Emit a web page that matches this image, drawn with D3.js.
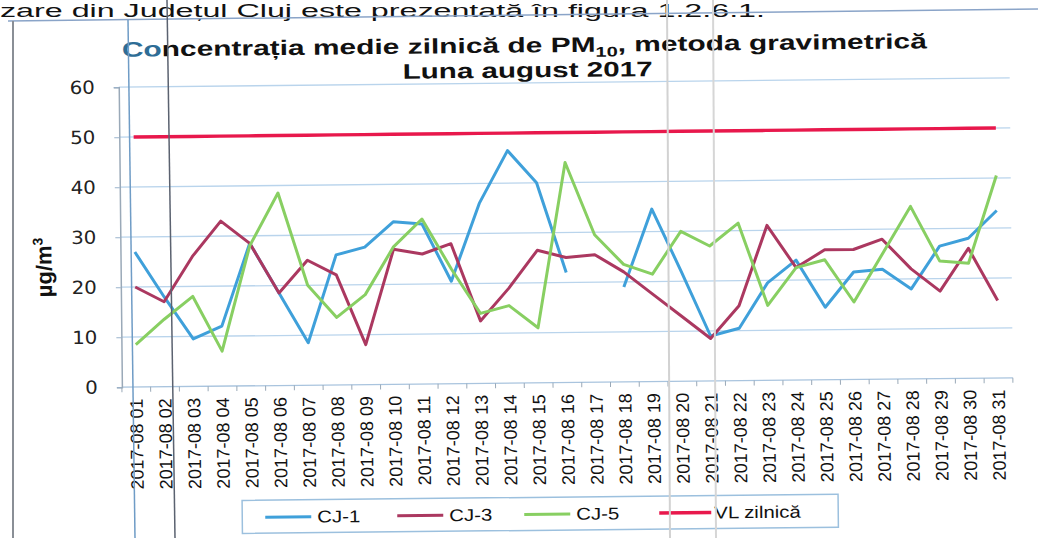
<!DOCTYPE html>
<html>
<head>
<meta charset="utf-8">
<script src="https://cdn.jsdelivr.net/npm/d3@7"></script>
<style>
body { margin: 0; background: #fff; }
svg { display: block; font-family: "Liberation Sans", Arial, sans-serif; }
</style>
</head>
<body>
<svg id="chart" width="1038" height="538"></svg>
<script>
const days = ["2017-08 01","2017-08 02","2017-08 03","2017-08 04","2017-08 05","2017-08 06",
  "2017-08 07","2017-08 08","2017-08 09","2017-08 10","2017-08 11","2017-08 12","2017-08 13",
  "2017-08 14","2017-08 15","2017-08 16","2017-08 17","2017-08 18","2017-08 19","2017-08 20",
  "2017-08 21","2017-08 22","2017-08 23","2017-08 24","2017-08 25","2017-08 26","2017-08 27",
  "2017-08 28","2017-08 29","2017-08 30","2017-08 31"]

const cj1 = [27, 18, 9.5, 12, 28.5, 18.5, 8.5, 26, 27.5, 32.5, 32, 20.5, 36, 46.5, 40, 22,
  null, 19, 34.5, 22, 9, 10.5, 19.5, 24, 14.5, 21.5, 22, 18, 26.5, 28, 33.5]
const cj3 = [20, 17, 26, 33, 28.5, 18.5, 25, 22, 8, 27, 26, 28, 12.5, 19, 26.5, 25,
  25.5, 22, 17.5, 13, 8.5, 15, 31, 22.5, 26, 26, 28, 22, 17.5, 26, 15.5]
const cj5 = [8.5, 13.5, 18, 7, 28, 38.5, 20, 13.5, 18, 27.5, 33, 23, 14, 15.5, 11, 44,
  29.5, 23.5, 21.5, 30, 27, 31.5, 15, 22.5, 24, 15.5, 25, 34.5, 23.5, 23, 40.5]
const vl = [50, 50, 50, 50, 50, 50, 50, 50, 50, 50, 50, 50, 50, 50, 50, 50,
  50, 50, 50, 50, 50, 50, 50, 50, 50, 50, 50, 50, 50, 50, 50]

const seriesNames = ["CJ-1", "CJ-3", "CJ-5", "VL zilnică"]
const seriesData = [cj1, cj3, cj5, vl]
const seriesColors = ["#3fa0da", "#ab3860", "#88cf62", "#e8184c"]
const yTicks = [0, 10, 20, 30, 40, 50, 60]

const svg = d3.select("#chart")

// stretch text horizontally, the scanned page is a bit wider than tall
function stretch(sel, k) {
  sel.each(function () {
    const w = this.getComputedTextLength()
    d3.select(this).attr("textLength", w * k).attr("lengthAdjust", "spacingAndGlyphs")
  })
}

// page text above the chart
svg.append("text")
  .attr("x", 0).attr("y", 17)
  .attr("font-size", 18)
  .attr("fill", "#111")
  .attr("textLength", 765).attr("lengthAdjust", "spacingAndGlyphs")
  .text("zare din Județul Cluj este prezentată în figura 1.2.6.1.")

// chart frame
svg.append("line").attr("x1", 8).attr("y1", 21).attr("x2", 1038).attr("y2", 9)
  .attr("stroke", "#8aa4c8").attr("stroke-width", 1.5)
svg.append("line").attr("x1", 13).attr("y1", 21).attr("x2", 13).attr("y2", 538)
  .attr("stroke", "#8a8f96").attr("stroke-width", 2)

// whole chart is a little rotated in the scan
const g = svg.append("g").attr("transform", "rotate(-0.6,567,300)")

const x = d3.scaleBand().domain(days).range([121, 1012])
const y = d3.scaleLinear().domain([0, 60]).range([382.5, 82.5])
const cx = d => x(d) + x.bandwidth() / 2

// gridlines
g.append("g")
  .selectAll("line")
  .data(yTicks)
  .join("line")
    .attr("x1", 121).attr("x2", 1012)
    .attr("y1", d => y(d)).attr("y2", d => y(d))
    .attr("stroke", d => d === 0 ? "#a9c4de" : "#b9d4ec")
    .attr("stroke-width", 1.3)

// y axis
const yAxis = g.append("g").attr("transform", "translate(121,0)")
  .call(d3.axisLeft(y).tickValues(yTicks).tickSize(5).tickPadding(8))
yAxis.select(".domain").attr("stroke", "#9aa9b8").attr("stroke-width", 1.5)
yAxis.selectAll(".tick line").attr("stroke", "#9ab3cc")
yAxis.selectAll(".tick text")
  .attr("font-size", 18)
  .attr("font-family", "'DejaVu Sans', sans-serif")
  .attr("fill", "#222")
  .attr("x", -24)
stretch(yAxis.selectAll(".tick text"), 1.1)

// x ticks at band edges
g.append("g")
  .selectAll("line")
  .data(days.concat([null]))
  .join("line")
    .attr("x1", (d, i) => 121 + i * x.step())
    .attr("x2", (d, i) => 121 + i * x.step())
    .attr("y1", y(0)).attr("y2", y(0) + 5)
    .attr("stroke", "#9aa9b8")

// x labels
g.append("g")
  .selectAll("text")
  .data(days)
  .join("text")
    .attr("transform", d => `translate(${cx(d)},394) rotate(-90)`)
    .attr("text-anchor", "end")
    .attr("dy", "0.35em")
    .attr("font-size", 18)
    .attr("fill", "#111")
    .text(d => d)

// series lines
const line = d3.line()
  .defined(d => d.v !== null)
  .x(d => cx(d.day))
  .y(d => y(d.v))

g.append("g")
  .selectAll("path")
  .data(seriesData.map((arr, k) => ({k, pts: arr.map((v, i) => ({day: days[i], v}))})))
  .join("path")
    .attr("d", s => line(s.pts))
    .attr("fill", "none")
    .attr("stroke", s => seriesColors[s.k])
    .attr("stroke-width", s => s.k === 3 ? 3.4 : 3)
    .attr("stroke-linejoin", "round")

// title
const title = g.append("text")
  .attr("x", 527).attr("y", 52)
  .attr("text-anchor", "middle")
  .attr("font-size", 21).attr("font-weight", "bold")
  .attr("fill", "#111")
  .attr("textLength", 805).attr("lengthAdjust", "spacingAndGlyphs")
title.append("tspan").attr("fill", "#2e6d96").text("Co")
title.append("tspan").text("ncentrația medie zilnică de PM")
title.append("tspan").attr("font-size", 14).attr("dy", 5).text("10")
title.append("tspan").attr("dy", -5).text(", metoda gravimetrică")

g.append("text")
  .attr("x", 530).attr("y", 77)
  .attr("text-anchor", "middle")
  .attr("font-size", 21).attr("font-weight", "bold")
  .attr("fill", "#111")
  .attr("textLength", 250).attr("lengthAdjust", "spacingAndGlyphs")
  .text("Luna august 2017")

// y axis title
const yTitle = g.append("text")
  .attr("transform", "translate(52,262) rotate(-90)")
  .attr("text-anchor", "middle")
  .attr("font-size", 22).attr("font-weight", "bold")
  .attr("fill", "#111")
yTitle.append("tspan").text("µg/m")
yTitle.append("tspan").attr("font-size", 14).attr("dy", -9).text("3")

// legend
const legend = g.append("g")
legend.append("rect")
  .attr("x", 240).attr("y", 497).attr("width", 596).attr("height", 33)
  .attr("fill", "#fff").attr("stroke", "#9cc0de").attr("stroke-width", 1.5)

const legendX = [263, 395, 522, 657]
const item = legend.selectAll("g.item")
  .data(seriesNames)
  .join("g")
    .attr("class", "item")
    .attr("transform", (d, i) => `translate(${legendX[i]},514)`)
item.append("line")
  .attr("x1", 0).attr("x2", (d, i) => i === 3 ? 52 : 46)
  .attr("stroke", (d, i) => seriesColors[i])
  .attr("stroke-width", (d, i) => i === 3 ? 3.4 : 3)
const legendText = item.append("text")
  .attr("x", (d, i) => i === 3 ? 55 : 52)
  .attr("dy", "0.35em")
  .attr("font-size", 17)
  .attr("fill", "#111")
  .text(d => d)
stretch(legendText, 1.2)

// scan marks over the page
const marks = [
  {x1: 128, y1: 20, x2: 135, y2: 538, c: "#6f9cc6", w: 1.5},
  {x1: 167, y1: 0, x2: 175, y2: 538, c: "#5b6270", w: 1.5},
  {x1: 667, y1: 0, x2: 670, y2: 538, c: "#d2d2d2", w: 2},
  {x1: 713, y1: 0, x2: 716, y2: 538, c: "#d6d6d6", w: 2}
]
svg.append("g")
  .selectAll("line")
  .data(marks)
  .join("line")
    .attr("x1", d => d.x1).attr("y1", d => d.y1)
    .attr("x2", d => d.x2).attr("y2", d => d.y2)
    .attr("stroke", d => d.c).attr("stroke-width", d => d.w)
</script>
</body>
</html>
